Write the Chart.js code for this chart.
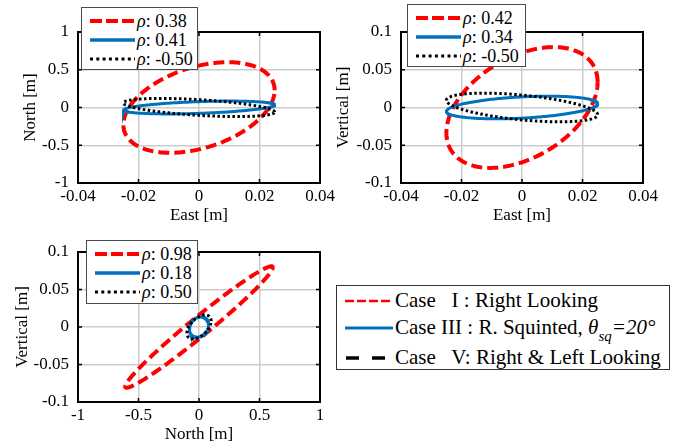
<!DOCTYPE html>
<html>
<head>
<meta charset="utf-8">
<script src="https://cdn.jsdelivr.net/npm/chart.js@4/dist/chart.umd.min.js"></script>
<style>
  html,body{margin:0;padding:0;background:#fff;}
  body{width:686px;height:446px;overflow:hidden;position:relative;font-family:"Liberation Serif","Times New Roman",serif;color:#000;}
  canvas{position:absolute;}
  .lg{position:absolute;background:#fff;border:1px solid #4a4a4a;box-sizing:border-box;z-index:5;}
  .lg svg{position:absolute;left:0;top:0;}
  .row{position:absolute;white-space:pre;line-height:1;}
  .sm{font-size:18px;}
  .big{font-size:21px;}
  i{font-style:italic;}
  sub{font-size:15px;vertical-align:-7px;line-height:0;}
</style>
</head>
<body>
<canvas id="c1" width="343" height="226" style="left:0px;top:0px;width:343px;height:226px"></canvas>
<canvas id="c2" width="363" height="226" style="left:323px;top:0px;width:363px;height:226px"></canvas>
<canvas id="c3" width="343" height="226" style="left:0px;top:220px;width:343px;height:226px"></canvas>

<div id="lg1" class="lg" style="left:81px;top:7px;width:117px;height:63px"></div>
<div id="lg2" class="lg" style="left:407px;top:4px;width:119px;height:63px"></div>
<div id="lg3" class="lg" style="left:86px;top:240px;width:112px;height:64px"></div>

<div id="lgMain" class="lg" style="left:336px;top:285px;width:334px;height:85px;border:1.5px solid #333">
  <svg width="334" height="85">
    <line x1="8" y1="15" x2="54" y2="15" stroke="#ff0000" stroke-width="2.5" stroke-dasharray="9 3"/>
    <line x1="8" y1="42" x2="56" y2="42" stroke="#0072bd" stroke-width="3"/>
    <line x1="9" y1="72" x2="52" y2="72" stroke="#000" stroke-width="3.5" stroke-dasharray="13 13"/>
  </svg>
  <div class="row big" style="left:58px;top:4px">Case   I : Right Looking</div>
  <div class="row big" style="left:58px;top:31px">Case III : R. Squinted, <i>θ</i><sub><i>sq</i></sub><i>=20°</i></div>
  <div class="row big" style="left:58px;top:61px">Case   V: Right &amp; Left Looking</div>
</div>

<script>
// ---------- data ----------
const caseNames = ['Case I', 'Case III', 'Case V'];

const xTicksEast = [-0.04, -0.02, 0, 0.02, 0.04];
const xTickLabelsEast = ['-0.04', '-0.02', '0', '0.02', '0.04'];
const yTicksNorth = [-1, -0.5, 0, 0.5, 1];
const yTickLabelsNorth = ['-1', '-0.5', '0', '0.5', '1'];
const yTicksVert = [-0.1, -0.05, 0, 0.05, 0.1];
const yTickLabelsVert = ['-0.1', '-0.05', '0', '0.05', '0.1'];
const xTicksNorth = [-1, -0.5, 0, 0.5, 1];
const xTickLabelsNorth = ['-1', '-0.5', '0', '0.5', '1'];

// panel 1: East vs North  (std-dev extents and correlation per case)
const rhoEN = [0.38, 0.41, -0.50];
const sdEast_EN = [0.025, 0.025, 0.025];
const sdNorth_EN = [0.60, 0.085, 0.12];
// panel 2: East vs Vertical
const rhoEV = [0.42, 0.34, -0.50];
const sdEast_EV = [0.025, 0.025, 0.025];
const sdVert_EV = [0.080, 0.015, 0.019];
// panel 3: North vs Vertical
const rhoNV = [0.98, 0.18, 0.50];
const sdNorth_NV = [0.61, 0.08, 0.10];
const sdVert_NV = [0.081, 0.0135, 0.016];

// ---------- styles ----------
const FONT = '"Liberation Serif","Times New Roman",serif';
const styles = [
  {color: '#ff0000', width: 4, dash: [11, 5], order: 2},
  {color: '#0072bd', width: 3, dash: [], order: 1},
  {color: '#000000', width: 3, dash: [2.5, 2.5], order: 0}
];

// covariance ellipse traced from (sigma_a, sigma_b, rho)
function ellipse(sa, sb, rho) {
  const pts = [];
  const n = 240;
  const k = Math.sqrt(1 - rho * rho);
  for (let i = 0; i <= n; i++) {
    const t = 2 * Math.PI * i / n;
    pts.push({x: sa * Math.cos(t), y: sb * (rho * Math.cos(t) + k * Math.sin(t))});
  }
  return pts;
}

const framePlugin = {
  id: 'frame',
  afterDraw(chart) {
    const {ctx, chartArea: a, scales} = chart;
    ctx.save();
    ctx.strokeStyle = '#000';
    ctx.lineWidth = 1.5;
    ctx.setLineDash([]);
    const L = 4;
    scales.x.ticks.forEach(t => {
      const px = scales.x.getPixelForValue(t.value);
      ctx.beginPath();
      ctx.moveTo(px, a.bottom); ctx.lineTo(px, a.bottom - L);
      ctx.moveTo(px, a.top); ctx.lineTo(px, a.top + L);
      ctx.stroke();
    });
    scales.y.ticks.forEach(t => {
      const py = scales.y.getPixelForValue(t.value);
      ctx.beginPath();
      ctx.moveTo(a.left, py); ctx.lineTo(a.left + L, py);
      ctx.moveTo(a.right, py); ctx.lineTo(a.right - L, py);
      ctx.stroke();
    });
    ctx.lineWidth = 2;
    ctx.strokeRect(a.left, a.top, a.right - a.left, a.bottom - a.top);
    ctx.restore();
  }
};

function makeChart(id, W, H, areaBottom, xt, xl, yt, yl, xTitle, yTitle, xTitlePad, yTitlePad, sa, sb, rho) {
  const datasets = rho.map((r, i) => ({
    label: caseNames[i],
    data: ellipse(sa[i], sb[i], r),
    showLine: true,
    pointRadius: 0,
    borderColor: styles[i].color,
    borderWidth: styles[i].width,
    borderDash: styles[i].dash,
    borderCapStyle: 'butt',
    fill: false,
    tension: 0,
    order: styles[i].order
  }));
  const tickFont = {family: FONT, size: 17};
  const titleFont = {family: FONT, size: 17, lineHeight: 1};
  return new Chart(document.getElementById(id), {
    type: 'scatter',
    data: {datasets},
    options: {
      responsive: false,
      animation: false,
      devicePixelRatio: 1,
      events: [],
      layout: {padding: {left: 0, right: W - 320, top: 32, bottom: 0}},
      plugins: {legend: {display: false}, tooltip: {enabled: false}},
      scales: {
        x: {
          type: 'linear', position: 'bottom',
          min: xt[0], max: xt[xt.length - 1],
          afterBuildTicks: s => { s.ticks = xt.map(v => ({value: v})); },
          afterFit: s => { s.height = H - areaBottom; },
          ticks: {callback: (v, i) => xl[i], font: tickFont, color: '#000', padding: 3.5, maxRotation: 0, autoSkip: false},
          grid: {color: '#cccccc', lineWidth: 1.5, drawTicks: false},
          border: {display: false},
          title: {display: true, text: xTitle, font: titleFont, color: '#000', padding: {top: 0, bottom: xTitlePad}}
        },
        y: {
          type: 'linear', position: 'left',
          min: yt[0], max: yt[yt.length - 1],
          afterBuildTicks: s => { s.ticks = yt.map(v => ({value: v})); },
          afterFit: s => { s.width = 78; },
          ticks: {callback: (v, i) => yl[i], font: tickFont, color: '#000', padding: 9, autoSkip: false},
          grid: {color: '#cccccc', lineWidth: 1.5, drawTicks: false},
          border: {display: false},
          title: {display: true, text: yTitle, font: titleFont, color: '#000', padding: {top: yTitlePad, bottom: 0}}
        }
      }
    },
    plugins: [framePlugin]
  });
}

makeChart('c1', 343, 226, 183, xTicksEast, xTickLabelsEast, yTicksNorth, yTickLabelsNorth,
  'East [m]', 'North [m]', 1.5, 22.5, sdEast_EN, sdNorth_EN, rhoEN);
makeChart('c2', 363, 226, 183, xTicksEast, xTickLabelsEast, yTicksVert, yTickLabelsVert,
  'East [m]', 'Vertical [m]', 1.5, 12.5, sdEast_EV, sdVert_EV, rhoEV);
makeChart('c3', 343, 226, 182, xTicksNorth, xTickLabelsNorth, yTicksVert, yTickLabelsVert,
  'North [m]', 'Vertical [m]', 2.5, 14.5, sdNorth_NV, sdVert_NV, rhoNV);

// ---------- small legends ----------
function fmtRho(r) { return (r < 0 ? '-' : '') + Math.abs(r).toFixed(2); }
function buildLegend(id, rho, w) {
  const el = document.getElementById(id);
  const rows = [13, 32, 51];
  const svgLines = [
    `<line x1="8" y1="${rows[0]}" x2="53" y2="${rows[0]}" stroke="#ff0000" stroke-width="4" stroke-dasharray="12 4"/>`,
    `<line x1="8" y1="${rows[1]}" x2="53" y2="${rows[1]}" stroke="#0072bd" stroke-width="3.5"/>`,
    `<line x1="8" y1="${rows[2]}" x2="53" y2="${rows[2]}" stroke="#000" stroke-width="3" stroke-dasharray="3 3.3"/>`
  ];
  let html = `<svg width="${w}" height="64">${svgLines.join('')}</svg>`;
  rho.forEach((r, i) => {
    html += `<div class="row sm" style="left:55px;top:${rows[i] - 9}px"><i>ρ</i>: ${fmtRho(r)}</div>`;
  });
  el.innerHTML = html;
}
buildLegend('lg1', rhoEN, 117);
buildLegend('lg2', rhoEV, 119);
buildLegend('lg3', rhoNV, 112);
</script>
</body>
</html>
